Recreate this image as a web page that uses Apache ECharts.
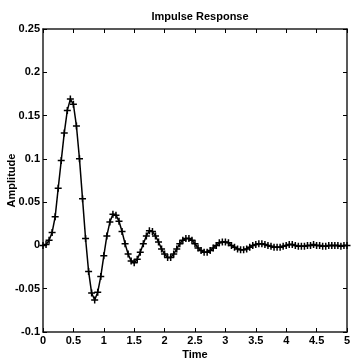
<!DOCTYPE html>
<html>
<head>
<meta charset="utf-8">
<script src="https://cdn.jsdelivr.net/npm/echarts@6/dist/echarts.min.js"></script>
<style>html,body{margin:0;padding:0;background:#fff;}#c{width:351px;height:361px;}</style>
</head>
<body>
<div id="c"></div>
<script>
var times = [0.00,0.05,0.10,0.15,0.20,0.25,0.30,0.35,0.40,0.45,0.50,0.55,0.60,0.65,0.70,0.75,0.80,0.85,0.90,0.95,
1.00,1.05,1.10,1.15,1.20,1.25,1.30,1.35,1.40,1.45,1.50,1.55,1.60,1.65,1.70,1.75,1.80,1.85,1.90,1.95,
2.00,2.05,2.10,2.15,2.20,2.25,2.30,2.35,2.40,2.45,2.50,2.55,2.60,2.65,2.70,2.75,2.80,2.85,2.90,2.95,
3.00,3.05,3.10,3.15,3.20,3.25,3.30,3.35,3.40,3.45,3.50,3.55,3.60,3.65,3.70,3.75,3.80,3.85,3.90,3.95,
4.00,4.05,4.10,4.15,4.20,4.25,4.30,4.35,4.40,4.45,4.50,4.55,4.60,4.65,4.70,4.75,4.80,4.85,4.90,4.95,5.00];
var amplitude = [0.000,0.001,0.006,0.015,0.033,0.066,0.098,0.130,0.156,0.169,0.163,0.138,0.100,0.054,0.008,-0.030,-0.055,-0.063,-0.054,-0.036,
-0.012,0.011,0.027,0.036,0.035,0.028,0.016,0.002,-0.010,-0.018,-0.020,-0.016,-0.008,0.002,0.011,0.017,0.016,0.011,0.004,-0.004,
-0.010,-0.014,-0.014,-0.010,-0.004,0.002,0.006,0.008,0.008,0.006,0.002,-0.003,-0.006,-0.008,-0.008,-0.006,-0.003,0.000,0.003,0.004,
0.004,0.003,0.000,-0.002,-0.004,-0.005,-0.005,-0.004,-0.002,0.000,0.001,0.002,0.002,0.001,0.000,-0.001,-0.002,-0.002,-0.002,-0.001,
0.000,0.001,0.001,0.000,-0.001,-0.001,-0.001,0.000,0.000,0.001,0.000,0.000,-0.001,-0.001,0.000,0.000,0.000,0.000,-0.001,0.000,0.000];
var titleText = 'Impulse Response';
var xName = 'Time';
var yName = 'Amplitude';

var pts = times.map(function(t, i){ return [t, amplitude[i]]; });
var font = '"Liberation Sans Narrow", "Liberation Sans", Arial, sans-serif';
var chart = echarts.init(document.getElementById('c'));
var tickStyle = {inside: true, length: 4, lineStyle: {color: '#000', width: 1}};
var lineStyle = {show: true, onZero: false, lineStyle: {color: '#222', width: 1.5}};
var txt = {fontFamily: font, fontSize: 11, fontWeight: 'bold', color: '#000'};
chart.setOption({
  backgroundColor: '#fff',
  animation: false,
  title: {text: titleText, left: 195, top: 6, textAlign: 'center', textStyle: txt},
  grid: {left: 43, right: 4, top: 29, bottom: 29, outerBoundsMode: 'none', containLabel: false},
  xAxis: [{
    type: 'value', min: 0, max: 5, interval: 0.5, position: 'bottom',
    name: xName, nameLocation: 'middle', nameGap: 17, nameMoveOverlap: false, nameTextStyle: txt,
    axisLine: lineStyle, axisTick: tickStyle, splitLine: {show: false},
    axisLabel: Object.assign({margin: 3}, txt)
  }, {
    type: 'value', min: 0, max: 5, interval: 0.5, position: 'top',
    axisLine: lineStyle, axisTick: tickStyle, splitLine: {show: false},
    axisLabel: {show: false}
  }],
  yAxis: [{
    type: 'value', min: -0.1, max: 0.25, interval: 0.05, position: 'left',
    name: yName, nameLocation: 'middle', nameGap: 26, nameRotate: 90, nameMoveOverlap: false, nameTextStyle: txt,
    axisLine: lineStyle, axisTick: tickStyle, splitLine: {show: false},
    axisLabel: Object.assign({margin: 3}, txt)
  }, {
    type: 'value', min: -0.1, max: 0.25, interval: 0.05, position: 'right',
    axisLine: lineStyle, axisTick: tickStyle, splitLine: {show: false},
    axisLabel: {show: false}
  }],
  series: [{
    type: 'line', data: pts, xAxisIndex: 0, yAxisIndex: 0,
    smooth: false,
    symbol: 'path://M0,5L10,5M5,0L5,10', symbolSize: 7,
    showAllSymbol: true,
    itemStyle: {color: 'none', borderColor: '#000', borderWidth: 1.5},
    lineStyle: {color: '#000', width: 1.5}
  }]
});
</script>
</body>
</html>
